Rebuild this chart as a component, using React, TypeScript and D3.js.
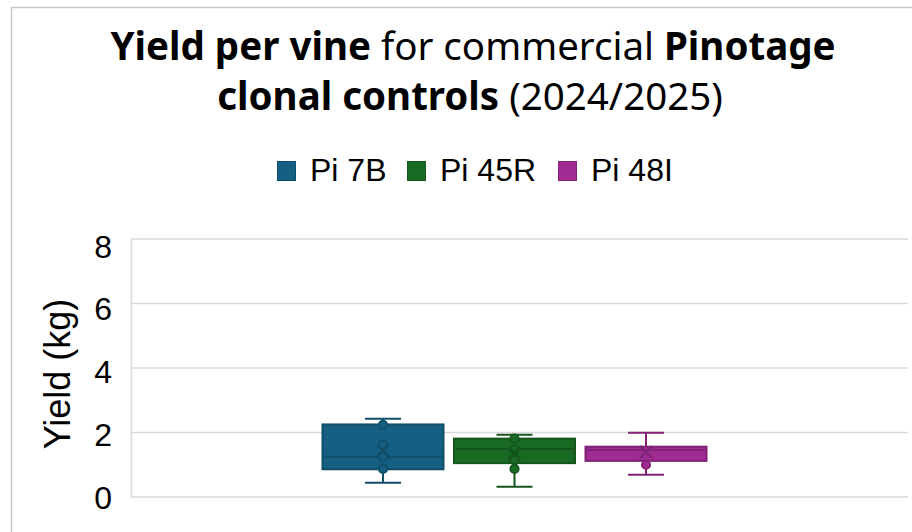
import React, { useEffect, useRef } from 'react'
import { axisLeft, color, scaleBand, scaleLinear, select } from 'd3'

const seriesNames = ['Pi 7B', 'Pi 45R', 'Pi 48I']
const seriesColors = ['#156082', '#196B24', '#A02B93']
const whiskerLow = [0.44, 0.32, 0.69]
const q1 = [0.86, 1.05, 1.12]
const median = [1.25, 1.49, 1.46]
const q3 = [2.25, 1.81, 1.56]
const whiskerHigh = [2.43, 1.93, 1.99]
const means = [1.44, 1.36, 1.39]
const innerPoints = [
  [2.24, 1.62, 1.25, 0.87],
  [1.81, 1.47, 1.14, 0.87],
  [1.0],
]
const yTicks = [0, 2, 4, 6, 8]
const categories = ['2024/2025']

const App = () => {
  const ref = useRef<SVGSVGElement>(null)

  useEffect(() => {
    main()
  }, [])

  const main = () => {
    const svg = select(ref.current)
    svg.selectAll('*').remove()
    const left = 131,
      right = 898,
      gridRight = 908,
      top = 239,
      bottom = 497

    // chart area border
    svg
      .append('rect')
      .attr('x', 11.5)
      .attr('y', 7.5)
      .attr('width', 940)
      .attr('height', 560)
      .attr('fill', '#fff')
      .attr('stroke', '#c8c8c8')
      .attr('stroke-width', 1.5)

    // title
    const title = svg
      .append('text')
      .attr('text-anchor', 'middle')
      .attr('font-family', 'Noto Sans, sans-serif')
      .attr('font-size', 38.5)
      .attr('fill', '#000')
    const l1 = title.append('tspan').attr('x', 473).attr('y', 60)
    l1.append('tspan').attr('font-weight', 'bold').text('Yield per vine')
    l1.append('tspan').text(' for commercial ')
    l1.append('tspan').attr('font-weight', 'bold').text('Pinotage')
    const l2 = title.append('tspan').attr('x', 470).attr('y', 110)
    l2.append('tspan').attr('font-weight', 'bold').text('clonal controls')
    l2.append('tspan').text(' (2024/2025)')

    // legend
    const legendX = [277, 407, 558]
    const lg = svg
      .selectAll('.legend')
      .data(seriesNames)
      .enter()
      .append('g')
      .attr('class', 'legend')
      .attr('transform', (d, i) => `translate(${legendX[i]}, 161)`)
    lg.append('rect')
      .attr('x', 0.5)
      .attr('y', 0.5)
      .attr('width', 18)
      .attr('height', 19)
      .attr('fill', (d, i) => seriesColors[i])
      .attr('stroke', (d, i) => color(seriesColors[i])!.darker(0.6).toString())
    lg.append('text')
      .attr('x', 33)
      .attr('y', 20)
      .attr('font-family', 'Liberation Sans, Arial, sans-serif')
      .attr('font-size', 32)
      .attr('fill', '#000')
      .text((d) => d)

    const yScale = scaleLinear().domain([0, 8]).range([bottom, top])
    // Excel spaces the tick labels a little tighter than the gridlines
    const yLabelScale = scaleLinear().domain([0, 8]).range([bottom, top + 7])
    const xScale = scaleBand().domain(categories).range([left, right])
    const center = xScale(categories[0])! + xScale.bandwidth() / 2
    const sScale = scaleBand()
      .domain(seriesNames)
      .range([center - 192, center + 192])
      .paddingInner(0.08)

    // gridlines
    svg
      .append('g')
      .selectAll('line')
      .data(yTicks)
      .enter()
      .append('line')
      .attr('x1', left)
      .attr('x2', gridRight)
      .attr('y1', (d) => yScale(d))
      .attr('y2', (d) => yScale(d))
      .attr('stroke', '#d9d9d9')
      .attr('stroke-width', 1.5)

    const yAxis = svg
      .append('g')
      .attr('transform', `translate(${left}, 0)`)
      .call(axisLeft(yScale).tickValues(yTicks).tickSize(0).tickPadding(19))
    yAxis.select('.domain').attr('stroke', '#d9d9d9').attr('stroke-width', 1.5)
    yAxis
      .selectAll('.tick text')
      .attr('font-family', 'Liberation Sans, Arial, sans-serif')
      .attr('font-size', 32)
      .attr('fill', '#000')
      .attr('dy', '0.35em')
      .attr('transform', (d: any) => `translate(0, ${yLabelScale(d) - yScale(d)})`)

    svg
      .append('text')
      .attr('transform', `translate(70, 374) rotate(-90)`)
      .attr('text-anchor', 'middle')
      .attr('font-family', 'Liberation Sans, Arial, sans-serif')
      .attr('font-size', 36)
      .attr('fill', '#000')
      .text('Yield (kg)')

    // boxes
    const bw = sScale.bandwidth()
    svg
      .selectAll('.box')
      .data(seriesNames)
      .enter()
      .append('g')
      .attr('class', 'box')
      .each(function (name, i) {
        const g = select(this)
        const x0 = sScale(name)!
        const cx = x0 + bw / 2
        const fill = seriesColors[i]
        const dark = color(fill)!.darker(0.6).toString()
        const cap = 18

        g.append('line')
          .attr('x1', cx)
          .attr('x2', cx)
          .attr('y1', yScale(whiskerHigh[i]))
          .attr('y2', yScale(whiskerLow[i]))
          .attr('stroke', dark)
          .attr('stroke-width', 2)
        g.selectAll('.cap')
          .data([whiskerHigh[i], whiskerLow[i]])
          .enter()
          .append('line')
          .attr('x1', cx - cap)
          .attr('x2', cx + cap)
          .attr('y1', (d) => yScale(d))
          .attr('y2', (d) => yScale(d))
          .attr('stroke', dark)
          .attr('stroke-width', 2)
        g.append('rect')
          .attr('x', x0)
          .attr('y', yScale(q3[i]))
          .attr('width', bw)
          .attr('height', yScale(q1[i]) - yScale(q3[i]))
          .attr('fill', fill)
          .attr('stroke', dark)
          .attr('stroke-width', 2)
        g.append('line')
          .attr('x1', x0)
          .attr('x2', x0 + bw)
          .attr('y1', yScale(median[i]))
          .attr('y2', yScale(median[i]))
          .attr('stroke', dark)
          .attr('stroke-width', 2)
        g.selectAll('circle')
          .data(innerPoints[i])
          .enter()
          .append('circle')
          .attr('cx', cx)
          .attr('cy', (d) => yScale(d))
          .attr('r', 4.2)
          .attr('fill', fill)
          .attr('stroke', dark)
          .attr('stroke-width', 1.8)
        const my = yScale(means[i])
        const m = 6
        g.append('path')
          .attr('d', `M${cx - m},${my - m}L${cx + m},${my + m}M${cx - m},${my + m}L${cx + m},${my - m}`)
          .attr('stroke', dark)
          .attr('stroke-width', 2.5)
          .attr('fill', 'none')
      })
  }

  return (
    <div className='box-graph-wrapper'>
      <svg
        ref={ref}
        width={912}
        height={532}
        style={{ position: 'absolute', left: 0, top: 0, background: '#fff' }}
      ></svg>
    </div>
  )
}

export default App
